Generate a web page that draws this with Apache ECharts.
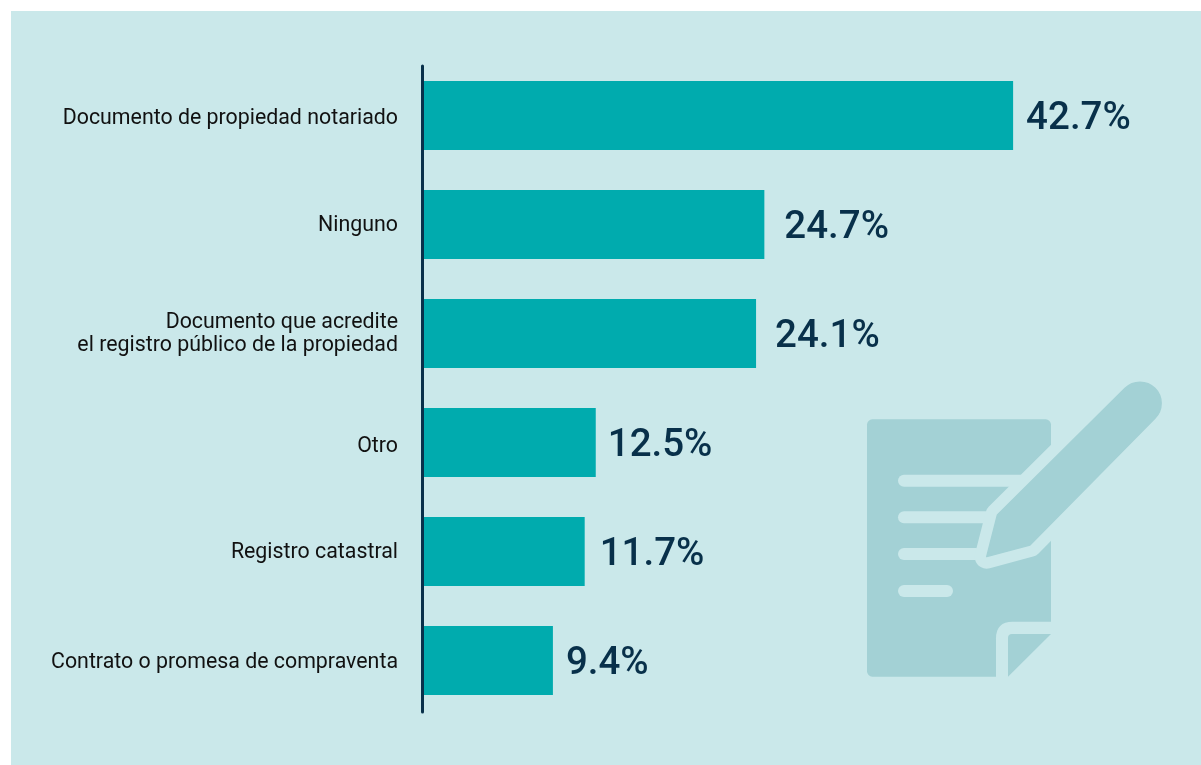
<!DOCTYPE html>
<html><head><meta charset="utf-8">
<style>html,body{margin:0;padding:0;background:#fff}#c{width:1201px;height:765px}</style>
<script src="https://cdn.jsdelivr.net/npm/echarts@6/dist/echarts.min.js"></script>
</head><body><div id="c"></div>
<script>
const categories = ['Documento de propiedad notariado','Ninguno','Documento que acredite\nel registro público de la propiedad','Otro','Registro catastral','Contrato o promesa de compraventa'];
const values = [42.7,24.7,24.1,12.5,11.7,9.4];
const labelGaps = [13,20,19,12,15,13];
const catNudge = [6,2,2,8,2,4];
const PANEL='#cae8ea', ICON='#a3d1d5', BAR='#00abae', INK='#08304a';
const reg=(n,d)=>echarts.graphic.registerShape(n,echarts.graphic.extendPath(d,{}));
reg('pencilIcon','M440 560 L472 435 L855 55 A63.6 63.6 0 0 1 945 145 L570 525 Z');
reg('foldCut','M468 922 L468 805 Q468 755 518 755 L636 755 L636 922 Z');
reg('foldFlap','M504 920 L504 804 Q504 792 516 792 L633 792 Z');
const chart=echarts.init(document.getElementById('c'),null,{renderer:'canvas'});
const bgLine=(x1,y,x2)=>({type:'rect',shape:{x:x1,y:y,width:x2-x1,height:36,r:18},style:{fill:PANEL}});
const catText={color:'#111',fontFamily:'Roboto',fontSize:21.35,lineHeight:24.5,align:'right'};
const rich={};
catNudge.forEach(n=>{rich['n'+n]=Object.assign({},catText,{padding:[n,0,0,0]});});
rich.plain=Object.assign({},catText);
chart.setOption({
  animation:false,
  backgroundColor:'#fff',
  grid:[{left:423,top:61,width:691,height:654},{left:422.5,top:66,width:691,height:646}],
  xAxis:[
    {type:'value',min:0,max:50,show:false,gridIndex:0},
    {type:'value',min:0,max:50,show:false,gridIndex:1}
  ],
  yAxis:[
    {type:'category',inverse:true,gridIndex:0,data:categories,
     axisLine:{show:false},axisTick:{show:false},
     axisLabel:Object.assign({margin:25,rich,
       formatter:(v,i)=>v.split('\n').map((l,j)=>'{'+(j===0?'n'+catNudge[i]:'plain')+'|'+l+'}').join('\n')},catText)},
    {type:'category',data:[],gridIndex:1,z:6,axisTick:{show:false},axisLabel:{show:false},
     axisLine:{show:true,lineStyle:{color:INK,width:3}}}
  ],
  series:[{type:'bar',xAxisIndex:0,yAxisIndex:0,barWidth:69,z:3,
    itemStyle:{color:BAR},
    data:values.map((v,i)=>({value:v,label:{distance:labelGaps[i]}})),
    label:{show:true,position:'right',offset:[0,4],formatter:p=>p.value.toFixed(1)+'%',color:INK,
      fontFamily:'Roboto',fontWeight:500,fontSize:38.5}
  }],
  graphic:[
    {type:'rect',z:-10,shape:{x:11,y:11,width:1190,height:754},style:{fill:PANEL},silent:true},
    {type:'group',x:840,y:370,scaleX:1/3,scaleY:1/3,silent:true,children:[
      {type:'rect',shape:{x:81,y:148,width:552,height:772,r:16},style:{fill:ICON}},
      bgLine(174,314,560),bgLine(174,424,455),bgLine(174,534,425),bgLine(174,645,339),
      {type:'pencilIcon',style:{fill:PANEL,stroke:PANEL,lineWidth:72,lineJoin:'round'}},
      {type:'pencilIcon',style:{fill:ICON,stroke:ICON,lineWidth:4,lineJoin:'round'}},
      {type:'foldCut',style:{fill:PANEL}},
      {type:'foldFlap',style:{fill:ICON}}
    ]}
  ]
});
</script></body></html>
